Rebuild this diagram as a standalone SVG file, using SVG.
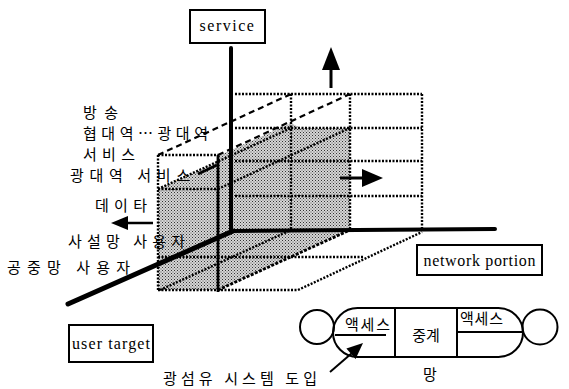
<svg xmlns="http://www.w3.org/2000/svg" width="569" height="389" viewBox="0 0 569 389">
<style>
.dot{fill:none;stroke:#000;stroke-width:2.4;stroke-dasharray:2 1.5}
.dash{fill:none;stroke:#000;stroke-width:2.2;stroke-dasharray:6 4}
.axis{fill:none;stroke:#000;stroke-linecap:round}
.box{fill:#fff;stroke:#000;stroke-width:2}
.en{font-family:"Liberation Serif","Times New Roman",serif;font-size:16px;fill:#000}
.ko{font-family:"Noto Sans CJK KR","Noto Sans",sans-serif;font-size:15px;fill:#000}
.ln{fill:none;stroke:#000;stroke-width:2}
</style>
<defs>
<pattern id="half" width="3" height="3" patternUnits="userSpaceOnUse">
<rect width="3" height="3" fill="#d6d6d6"/>
<rect x="0" y="0" width="1" height="1" fill="#333"/>
<rect x="1.5" y="1.5" width="1" height="1" fill="#555"/>
</pattern>
</defs>
<rect width="569" height="389" fill="#fff"/>
<g id="shading">
<polygon points="158,189 218,162 218,156 291,123 300,128 350,128 350,230 218,290 158,290" fill="url(#half)"/>
</g>
<g id="connectors">
<line class="dot" x1="235" y1="94" x2="422" y2="94"/>
<line class="dot" x1="235" y1="128" x2="422" y2="128"/>
<line class="dot" x1="235" y1="161" x2="422" y2="161"/>
<line class="dot" x1="235" y1="196" x2="422" y2="196"/>
<line class="dot" x1="291" y1="94" x2="291" y2="229"/>
<line class="dot" x1="350" y1="94" x2="350" y2="229"/>
<line class="dot" x1="422" y1="94" x2="422" y2="229"/>
<line class="dot" x1="158" y1="155" x2="158" y2="290"/>
<line class="dot" x1="158" y1="155" x2="218" y2="155"/>
<line class="dot" x1="158" y1="189" x2="218" y2="189"/>
<line class="dot" x1="158" y1="290" x2="298" y2="290"/>
<line class="dot" x1="158" y1="257" x2="363" y2="257"/>
<line class="ln" x1="218" y1="155" x2="218" y2="292" style="stroke-width:2.8"/>
<line class="dash" x1="158" y1="155" x2="291" y2="94"/>
<line class="dash" x1="218" y1="155" x2="350" y2="94"/>
<line class="dot" x1="158" y1="189" x2="291" y2="128"/>
<line class="dot" x1="218" y1="189" x2="350" y2="128"/>
<line class="dot" x1="160" y1="290" x2="291" y2="230"/>
<line class="dash" x1="218" y1="290" x2="350" y2="230" style="stroke-width:2.8;stroke-dasharray:3 1.5"/>
<line class="dot" x1="298" y1="290" x2="422" y2="232"/>
<line class="ln" x1="198" y1="174" x2="217" y2="165" style="stroke-width:3"/>
<line class="axis" x1="231" y1="48" x2="231" y2="232" stroke-width="4"/>
<line class="axis" x1="231" y1="231" x2="495" y2="229" stroke-width="4"/>
<line class="axis" x1="233" y1="231" x2="68" y2="304" stroke-width="5"/>
<line class="ln" x1="331" y1="88" x2="331" y2="66" style="stroke-width:3"/>
<polygon points="331,47 340,70 322,70" fill="#000"/>
<line class="ln" x1="340" y1="178" x2="364" y2="178" style="stroke-width:3"/>
<polygon points="383,178 362,169 362,187" fill="#000"/>
<line class="ln" x1="153" y1="223" x2="126" y2="223" style="stroke-width:2.5"/>
<polygon points="111,223 128,216 128,230" fill="#000"/>
</g>
<g id="service">
<rect class="box" x="190" y="10" width="75" height="33"/>
<text class="en" x="227.5" y="31" text-anchor="middle" letter-spacing="1.5">service</text>
</g>
<g id="network-portion">
<rect class="box" x="417" y="245" width="125" height="30"/>
<text class="en" x="479.5" y="266" text-anchor="middle" textLength="112" lengthAdjust="spacing">network portion</text>
</g>
<g id="user-target">
<rect class="box" x="69" y="325" width="84" height="37"/>
<text class="en" x="111" y="349" text-anchor="middle" textLength="78" lengthAdjust="spacing">user target</text>
</g>
<g id="labels">
<text class="ko" x="83" y="118" textLength="35" lengthAdjust="spacing">방송</text>
<text class="ko" x="83" y="139" textLength="125" lengthAdjust="spacing">협대역…광대역</text>
<text class="ko" x="83" y="160" textLength="52" lengthAdjust="spacing">서비스</text>
<text class="ko" x="70" y="181" textLength="120" lengthAdjust="spacing">광대역 서비스</text>
<text class="ko" x="95" y="211" textLength="52" lengthAdjust="spacing">데이타</text>
<text class="ko" x="68" y="247" textLength="117" lengthAdjust="spacing">사설망 사용자</text>
<text class="ko" x="7" y="273" textLength="123" lengthAdjust="spacing">공중망 사용자</text>
<text class="ko" x="163" y="384" textLength="154" lengthAdjust="spacing">광섬유 시스템 도입</text>
<text class="ko" x="423" y="380">망</text>
</g>
<g id="network">
<circle cx="317" cy="327" r="17" fill="none" stroke="#000" stroke-width="2"/>
<rect x="333" y="308" width="190" height="49" rx="24.5" fill="none" stroke="#000" stroke-width="2"/>
<circle cx="540" cy="327" r="17.5" fill="none" stroke="#000" stroke-width="2"/>
<line class="ln" x1="395" y1="308" x2="395" y2="357"/>
<line class="ln" x1="457" y1="308" x2="457" y2="357"/>
<line class="ln" x1="335" y1="335" x2="386" y2="335"/>
<line class="ln" x1="457" y1="332" x2="522" y2="332"/>
<text class="ko" x="345" y="330" font-size="13" textLength="45" lengthAdjust="spacing">액세스</text>
<text class="ko" x="426" y="341" font-size="13" text-anchor="middle">중계</text>
<text class="ko" x="460" y="324" font-size="13" textLength="43" lengthAdjust="spacing">액세스</text>
<line class="ln" x1="330" y1="372" x2="352" y2="353"/>
<polygon points="363,343 355.6,358.9 346.4,348.4" fill="#000"/>
</g>
</svg>
